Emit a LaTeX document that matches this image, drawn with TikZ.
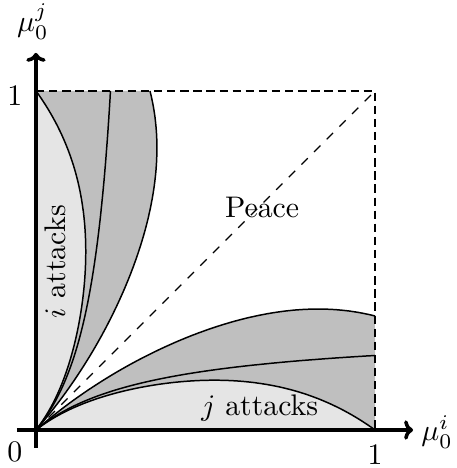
\documentclass[tikz,border=0pt]{standalone}
\usetikzlibrary{arrows.meta}
\begin{document}
\begin{tikzpicture}[x=4cm,y=4cm,
  curve/.style={line width=0.5pt},
  darkfill/.style={fill=black!25},
  lightfill/.style={fill=black!10},
  axis/.style={line width=1.2pt,-{To[length=3pt,width=6.5pt]}},
  border/.style={line width=0.9pt, dash pattern=on 2.8pt off 1.6pt},
  diag/.style={line width=0.4pt, dash pattern=on 3pt off 3pt},
  lbl/.style={inner sep=0pt}]
\useasboundingbox (-0.106,-0.112) rectangle (1.239,1.268);
\pgfmathdeclarefunction{fo}{1}{\pgfmathparse{0.98*#1/(#1+1.125)-0.125*#1^4}}
\pgfmathdeclarefunction{fm}{1}{\pgfmathparse{0.299*#1/(#1+0.36)}}
\pgfmathdeclarefunction{fl}{1}{\pgfmathparse{0.27*#1/(#1+0.345)*(1-#1^3.6)}}
% two mirror-image halves
\foreach \m in {{1,0,0,1},{0,1,1,0}}{
  \begin{scope}[cm/.expanded={\m,(0,0)}]
    \fill[darkfill] (0,0) -- plot[domain=0.001:1,samples=120] (\x,{fo(\x)}) -- (1,0) -- cycle;
    \fill[lightfill] (0,0) -- plot[domain=0.001:1,samples=120] (\x,{fl(\x)}) -- cycle;
    \draw[curve] (0,0) -- plot[domain=0.001:1,samples=120] (\x,{fo(\x)});
    \draw[curve] (0,0) -- plot[domain=0.001:1,samples=120] (\x,{fm(\x)});
    \draw[curve] (0,0) -- plot[domain=0.001:1,samples=120] (\x,{fl(\x)});
  \end{scope}
}
\coordinate (O) at (0,0);
\coordinate (A) at (1,0);
\coordinate (B) at (1,1);
\coordinate (C) at (0,1);
\coordinate (xs) at (-0.056,0);
\coordinate (xe) at (1.112,0);
\coordinate (ys) at (0,-0.053);
\coordinate (ye) at (0,1.112);
\draw[diag] (O) -- (B);
\draw[border] (C) -- (B) -- (A);
\draw[axis] (xs) -- (xe);
\draw[axis] (ys) -- (ye);
\node[lbl] (xlab) at (1.183,-0.006) {$\mu_0^i$};
\node[lbl] (ylab) at (-0.009,1.204) {$\mu_0^j$};
\node[lbl] (one-y) at (-0.062,0.985) {$1$};
\node[lbl] (zero) at (-0.062,-0.065) {$0$};
\node[lbl] (one-x) at (1.0,-0.074) {$1$};
\node[lbl] (peace) at (0.667,0.655) {Peace};
\node[lbl,rotate=90] (iatt) at (0.056,0.496) {$i$ attacks};
\node[lbl] (jatt) at (0.66,0.065) {$j$ attacks};
\end{tikzpicture}
\end{document}
